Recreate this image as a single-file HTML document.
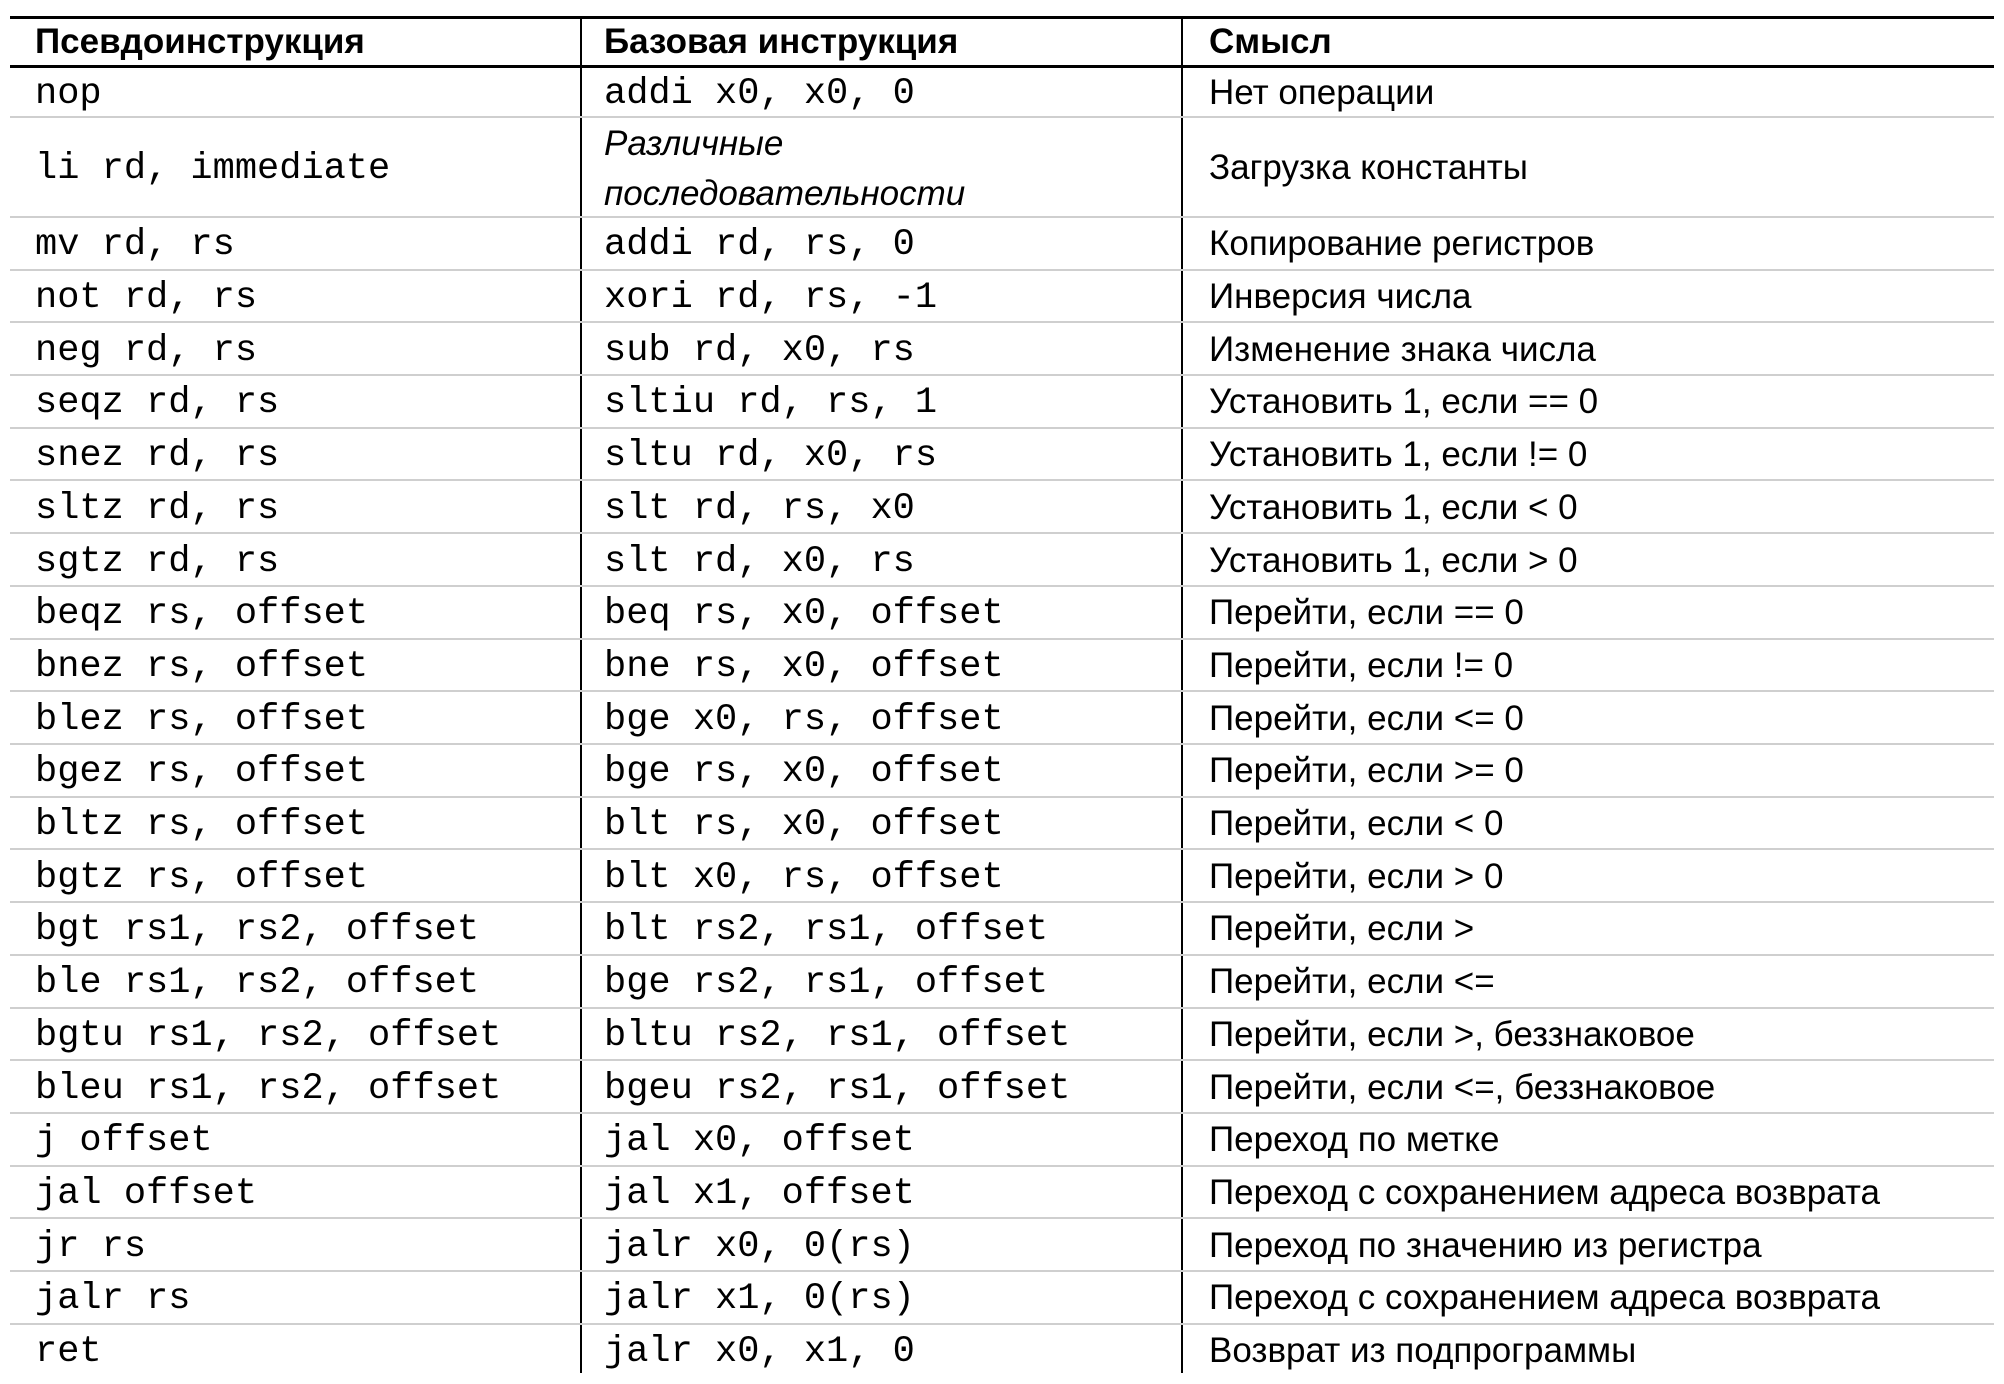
<!DOCTYPE html>
<html><head><meta charset="utf-8"><style>
html,body{margin:0;padding:0;background:#fff;}
body{width:2004px;height:1384px;position:relative;overflow:hidden;}
.h{position:absolute;left:10px;width:1984px;}
.v{position:absolute;width:2px;background:#000;}
.c{position:absolute;white-space:pre;color:#000;}
.m{font-family:"Liberation Mono","DejaVu Sans Mono",monospace;font-size:37px;}
.s{font-family:"Liberation Sans","DejaVu Sans",sans-serif;font-size:35px;}
.b{font-weight:bold;}
.i{font-style:italic;line-height:50px;}
.c1{left:35px}.c2{left:604px}.c3{left:1209px}
</style></head><body>
<div class="h" style="top:16px;height:3px;background:#000"></div>
<div class="h" style="top:65px;height:3px;background:#000"></div>
<div class="v" style="left:580px;top:17px;height:1356px"></div>
<div class="v" style="left:1181px;top:17px;height:1356px"></div>
<div id="rows"></div>
<script>
var rows=[
["nop","addi x0, x0, 0","Нет операции"],
["li rd, immediate","*","Загрузка константы"],
["mv rd, rs","addi rd, rs, 0","Копирование регистров"],
["not rd, rs","xori rd, rs, -1","Инверсия числа"],
["neg rd, rs","sub rd, x0, rs","Изменение знака числа"],
["seqz rd, rs","sltiu rd, rs, 1","Установить 1, если == 0"],
["snez rd, rs","sltu rd, x0, rs","Установить 1, если != 0"],
["sltz rd, rs","slt rd, rs, x0","Установить 1, если < 0"],
["sgtz rd, rs","slt rd, x0, rs","Установить 1, если > 0"],
["beqz rs, offset","beq rs, x0, offset","Перейти, если == 0"],
["bnez rs, offset","bne rs, x0, offset","Перейти, если != 0"],
["blez rs, offset","bge x0, rs, offset","Перейти, если <= 0"],
["bgez rs, offset","bge rs, x0, offset","Перейти, если >= 0"],
["bltz rs, offset","blt rs, x0, offset","Перейти, если < 0"],
["bgtz rs, offset","blt x0, rs, offset","Перейти, если > 0"],
["bgt rs1, rs2, offset","blt rs2, rs1, offset","Перейти, если >"],
["ble rs1, rs2, offset","bge rs2, rs1, offset","Перейти, если <="],
["bgtu rs1, rs2, offset","bltu rs2, rs1, offset","Перейти, если >, беззнаковое"],
["bleu rs1, rs2, offset","bgeu rs2, rs1, offset","Перейти, если <=, беззнаковое"],
["j offset","jal x0, offset","Переход по метке"],
["jal offset","jal x1, offset","Переход с сохранением адреса возврата"],
["jr rs","jalr x0, 0(rs)","Переход по значению из регистра"],
["jalr rs","jalr x1, 0(rs)","Переход с сохранением адреса возврата"],
["ret","jalr x0, x1, 0","Возврат из подпрограммы"]];
function esc(s){return s.replace(/&/g,"&amp;").replace(/</g,"&lt;").replace(/>/g,"&gt;");}
var h='';
function cell(cls,top,height,txt){return '<div class="c '+cls+'" style="top:'+top+'px;height:'+height+'px;display:flex;align-items:center">'+txt+'</div>';}
h+=cell('s b c1',17,49,'Псевдоинструкция')+cell('s b c2',17,49,'Базовая инструкция')+cell('s b c3',17,49,'Смысл');
var y=66;
for(var k=0;k<rows.length;k++){
 var hh=(k==0)?51:(k==1?100:52.7);
 var r=rows[k];
 h+=cell('m c1',y+2,hh,esc(r[0]));
 if(r[1]=="*") h+=cell('s i c2',y+2,hh,'<span>Различные<br>последовательности</span>');
 else h+=cell('m c2',y+2,hh,esc(r[1]));
 h+=cell('s c3',y+1,hh,esc(r[2]));
 y+=hh;
 if(k<rows.length-1) h+='<div class="h" style="top:'+(Math.round(y)-1)+'px;height:2px;background:#cfcfcf"></div>';
}
document.getElementById('rows').innerHTML=h;
</script>
</body></html>
